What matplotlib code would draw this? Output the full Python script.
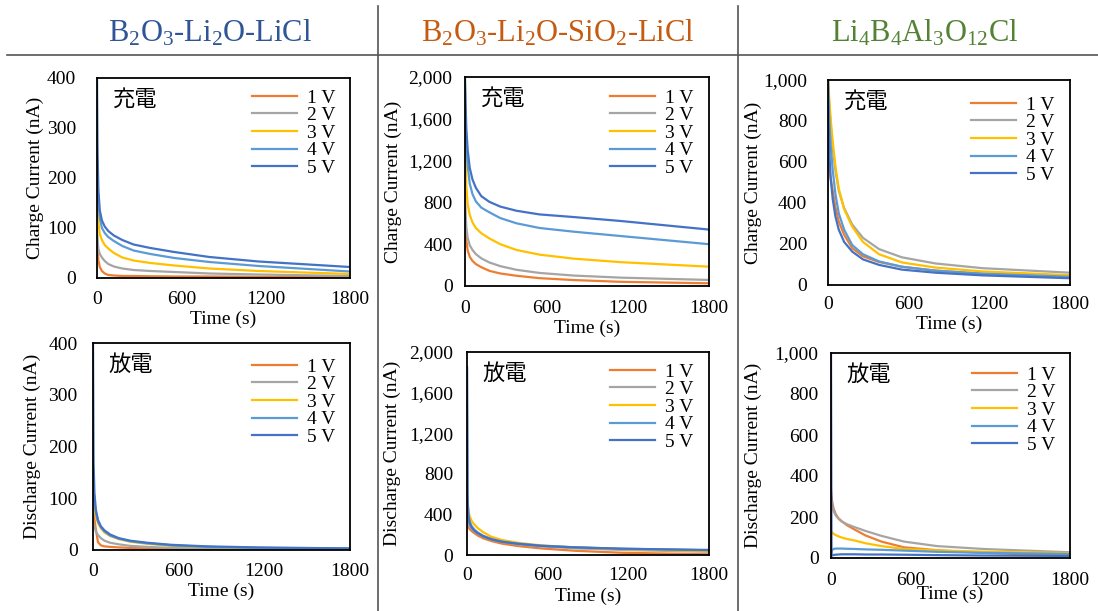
import numpy as np
import matplotlib
matplotlib.use("Agg")
import matplotlib.pyplot as plt
from matplotlib.lines import Line2D

plt.rcParams['font.family'] = ['Liberation Serif', 'Noto Sans CJK JP']
plt.rcParams['mathtext.fontset'] = 'custom'
plt.rcParams['mathtext.rm'] = 'Liberation Serif'
plt.rcParams['mathtext.it'] = 'Liberation Serif'

# sample times (s)
time_s = [0, 4, 10, 20, 35, 55, 80, 120, 180, 260, 380, 550, 800, 1150, 1800]
voltages = ["1 V", "2 V", "3 V", "4 V", "5 V"]

# B2O3-Li2O-LiCl
bl_charge = [
    [85, 55, 35, 22, 14, 9, 6, 5, 4, 4, 3.5, 3, 3, 2.5, 2],
    [100, 75, 58, 48, 41, 34, 28, 23, 19, 16, 14, 12, 9, 7, 4],
    [230, 150, 110, 88, 76, 66, 59, 50, 41, 35, 30, 25, 19, 14, 8],
    [260, 200, 150, 120, 100, 90, 82, 74, 64, 55, 48, 40, 32, 24, 13],
    [400, 250, 175, 135, 115, 103, 94, 85, 76, 67, 60, 52, 42, 33, 22],
]
bl_discharge = [
    [85, 75, 60, 40, 15, 9, 7, 6, 5, 4, 3, 2, 1.5, 1, 1],
    [60, 52, 44, 36, 29, 23, 18, 14, 11, 8, 6, 4, 3, 2, 1.5],
    [110, 95, 80, 65, 52, 42, 34, 27, 21, 16, 12, 8, 6, 4, 2],
    [140, 120, 95, 72, 55, 44, 36, 28, 22, 17, 13, 9, 6, 4, 3],
    [400, 170, 110, 78, 58, 46, 38, 30, 23, 18, 14, 10, 7, 5, 3],
]

# B2O3-Li2O-SiO2-LiCl
bls_charge = [
    [760, 560, 430, 340, 280, 240, 210, 180, 145, 120, 98, 75, 57, 40, 26],
    [900, 700, 560, 460, 390, 345, 305, 265, 225, 190, 155, 125, 100, 80, 58],
    [1700, 1250, 950, 780, 680, 610, 555, 505, 455, 400, 345, 300, 262, 228, 185],
    [1900, 1600, 1350, 1150, 980, 880, 810, 750, 705, 650, 600, 555, 520, 478, 400],
    [2000, 1750, 1500, 1300, 1130, 1020, 940, 860, 805, 760, 720, 685, 660, 622, 540],
]
bls_discharge = [
    [320, 295, 275, 255, 235, 215, 192, 165, 138, 112, 88, 65, 42, 22, 7],
    [380, 340, 310, 285, 260, 235, 210, 182, 152, 128, 105, 85, 66, 50, 32],
    [620, 520, 440, 380, 335, 300, 265, 225, 180, 148, 120, 95, 75, 58, 38],
    [1850, 550, 400, 330, 285, 250, 222, 190, 158, 133, 112, 92, 76, 62, 46],
    [1850, 600, 380, 310, 270, 240, 215, 185, 155, 130, 110, 90, 75, 62, 50],
]

# Li4B4Al3O12Cl
lbac_charge = [
    [620, 600, 570, 520, 460, 380, 310, 245, 180, 140, 112, 89, 70, 55, 41],
    [1000, 940, 870, 780, 670, 560, 460, 375, 295, 230, 175, 135, 105, 82, 60],
    [1000, 960, 900, 810, 700, 580, 470, 370, 285, 210, 150, 110, 85, 66, 48],
    [1000, 900, 800, 680, 560, 445, 350, 270, 195, 150, 115, 89, 70, 55, 40],
    [1000, 800, 640, 520, 420, 335, 270, 210, 163, 125, 98, 75, 60, 47, 33],
]
lbac_discharge = [
    [330, 300, 270, 240, 215, 195, 180, 160, 138, 110, 80, 52, 38, 25, 11],
    [300, 280, 255, 228, 208, 192, 178, 165, 150, 132, 108, 80, 58, 44, 28],
    [130, 128, 124, 118, 112, 106, 100, 93, 85, 72, 58, 44, 37, 31, 24],
    [10, 30, 40, 44, 46, 46, 46, 45, 44, 42, 40, 36, 30, 25, 20],
    [1000, 10, 13, 15, 16, 17, 18, 18, 18, 17, 17, 16, 14, 12, 10],
]

titles = [r"B$_2$O$_3$-Li$_2$O-LiCl", r"B$_2$O$_3$-Li$_2$O-SiO$_2$-LiCl",
          r"Li$_4$B$_4$Al$_3$O$_{12}$Cl"]
title_colors = ["#2F5597", "#C55A11", "#548235"]
series_colors = ["#ED7D31", "#A5A5A5", "#FFC000", "#5B9BD5", "#4472C4"]

y_max = [400, 2000, 1000]
y_ticks = [[0, 100, 200, 300, 400], [0, 400, 800, 1200, 1600, 2000],
           [0, 200, 400, 600, 800, 1000]]

W, H = 1098, 611
fig = plt.figure(figsize=(W / 100, H / 100), dpi=100)

# axes boxes in pixels: (left, right, top, bottom)
boxes = [
    [(97, 350, 78, 278), (465, 709, 77, 286), (828, 1070, 80, 285)],
    [(93, 350, 343, 550), (467, 709, 352, 555), (831, 1070, 353, 558)],
]
ylabel_x = [[35, 393, 753], [32, 392, 753]]
legend_left = [[252, 610, 971], [252, 610, 972]]
legend_row1 = [[98, 98, 105], [367, 372, 375]]
ytick_pad = [[15, 9, 15], [11, 10, 9]]
xtick_pad = [[9, 10, 8], [9, 9, 10]]
xlabel_pad = [[2, 2, 2], [2, 2, -2]]

data = [[bl_charge, bls_charge, lbac_charge],
        [bl_discharge, bls_discharge, lbac_discharge]]
ylabels = ["Charge Current (nA)", "Discharge Current (nA)"]
tags = ["充電", "放電"]

for r in range(2):
    for c in range(3):
        l, rt, t, b = boxes[r][c]
        w, h = rt - l, b - t
        ax = fig.add_axes([l / W, 1 - b / H, w / W, h / H])
        for i, v in enumerate(voltages):
            ax.plot(time_s, data[r][c][i], color=series_colors[i], lw=1.6, label=v)
        ax.set_xlim(0, 1800)
        ax.set_ylim(0, y_max[c])
        ax.set_xticks([0, 600, 1200, 1800])
        ax.set_yticks(y_ticks[c])
        if c > 0:
            ax.set_yticklabels([f"{v:,}" for v in y_ticks[c]])
        ax.tick_params(length=0, labelsize=14)
        ax.tick_params(axis='y', pad=ytick_pad[r][c])
        ax.tick_params(axis='x', pad=xtick_pad[r][c])
        for s in ax.spines.values():
            s.set_linewidth(1.3)
            s.set_color("black")
        ax.set_xlabel("Time (s)", fontsize=14, labelpad=xlabel_pad[r][c])
        ax.set_ylabel(ylabels[r], fontsize=14)
        # label anchor is its right edge after rotation
        ax.yaxis.set_label_coords((ylabel_x[r][c] + 9 - l) / w, 0.5)
        ax.text(15 / w, 1 - 21 / h, tags[r], transform=ax.transAxes, fontsize=16,
                family=['Noto Sans CJK JP'], va='center', ha='left')
        ax.legend(loc='upper left',
                  bbox_to_anchor=((legend_left[r][c] - l) / w,
                                  1 - (legend_row1[r][c] - 9 - t) / h),
                  frameon=False, fontsize=14, handlelength=2.3, labelspacing=0.0,
                  handletextpad=0.55, borderpad=0, borderaxespad=0)

# column titles
for c, x in enumerate([210, 558, 925]):
    fig.text(x / W, 1 - 33 / H, titles[c], color=title_colors[c], fontsize=22,
             ha='center', va='center')

# separators
fig.add_artist(Line2D([7 / W, 1], [1 - 55 / H, 1 - 55 / H], color="#555555", lw=1.2))
for x in [378, 738]:
    fig.add_artist(Line2D([x / W, x / W], [1 - 6 / H, 0], color="#555555", lw=1.2))

fig.savefig("out.png", dpi=100)
